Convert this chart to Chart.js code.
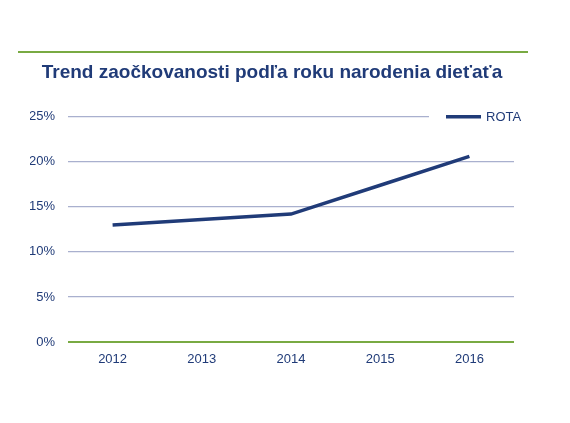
<!DOCTYPE html>
<html>
<head>
<meta charset="utf-8">
<script src="https://cdn.jsdelivr.net/npm/chart.js@4"></script>
<style>
  html, body { margin: 0; padding: 0; background: #fff; }
  #wrap { width: 570px; height: 423px; }
</style>
</head>
<body>
<div id="wrap"><canvas id="line-chartcanvas" width="570" height="423"></canvas></div>
<script>
// data
var years = ["2012", "2013", "2014", "2015", "2016"];
var rota = [13.0, 13.6, 14.2, 17.4, 20.6];
var seriesName = "ROTA";
var chartTitle = "Trend zaočkovanosti podľa roku narodenia dieťaťa";

var navy = "#203B78";
var green = "#79AA43";
var font = "'Liberation Sans', Arial, sans-serif";

// green rule above the title + legend drawn in the top right corner
var decor = {
  id: "decor",
  afterDraw: function(chart) {
    var c = chart.ctx;
    c.save();
    c.strokeStyle = green;
    c.lineWidth = 2;
    c.beginPath();
    c.moveTo(18, 52);
    c.lineTo(528, 52);
    c.stroke();

    // legend box hides the grid line behind it
    var y = chart.scales.y.getPixelForValue(25);
    c.fillStyle = "#fff";
    c.fillRect(429, y - 9, 100, 18);
    c.strokeStyle = navy;
    c.lineWidth = 3.5;
    c.beginPath();
    c.moveTo(446, y);
    c.lineTo(481, y);
    c.stroke();
    c.fillStyle = navy;
    c.font = "13px " + font;
    c.textBaseline = "middle";
    c.fillText(chart.data.datasets[0].label, 486, y + 1);
    c.restore();
  }
};

var data = {
  labels: years,
  datasets: [
    {
      label: seriesName,
      data: rota,
      borderColor: navy,
      backgroundColor: navy,
      borderWidth: 3.5,
      fill: false,
      lineTension: 0,
      pointRadius: 0
    }
  ]
};

var options = {
  responsive: false,
  animation: false,
  layout: { padding: { left: 30, right: 56, top: 0, bottom: 51 } },
  plugins: {
    legend: { display: false },
    tooltip: { enabled: false },
    title: {
      display: true,
      text: chartTitle,
      color: navy,
      font: { family: font, size: 19, weight: "bold" },
      padding: { top: 61, bottom: 33 }
    }
  },
  scales: {
    x: {
      offset: true,
      grid: { display: false, drawTicks: false },
      border: { display: false },
      ticks: {
        color: navy,
        padding: 10,
        font: { family: font, size: 13 }
      },
      afterFit: function(s) { s.height = 30; }
    },
    y: {
      min: 0,
      max: 25,
      grid: {
        drawTicks: false,
        lineWidth: function(ctx) { return ctx.tick && ctx.tick.value === 0 ? 2 : 1.2; },
        color: function(ctx) { return ctx.tick && ctx.tick.value === 0 ? green : "#A9B0CE"; }
      },
      border: { display: false },
      ticks: {
        stepSize: 5,
        color: navy,
        padding: 13,
        font: { family: font, size: 13 },
        callback: function(v) { return v + "%"; }
      },
      afterFit: function(s) { s.width = 38; }
    }
  }
};

var ctx = document.getElementById("line-chartcanvas");
var chart = new Chart(ctx, {
  type: "line",
  data: data,
  options: options,
  plugins: [decor]
});
</script>
</body>
</html>
